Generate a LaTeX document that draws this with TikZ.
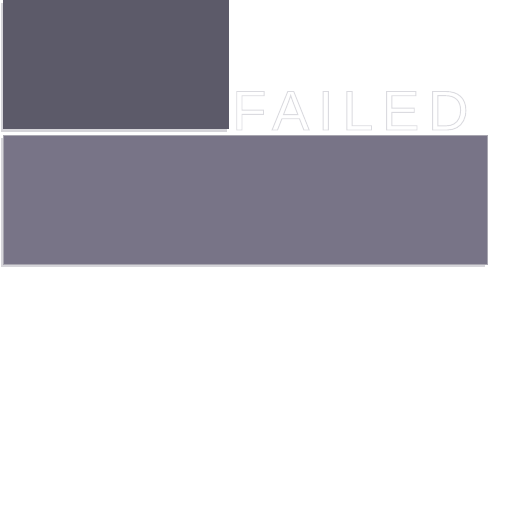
\documentclass[tikz,border=0pt]{standalone}
\usepackage{fontspec}
\setmainfont{Liberation Sans}
\usetikzlibrary{positioning,shadows}

\definecolor{slatedark}{HTML}{5C5A69}
\definecolor{slatelight}{HTML}{787487}
\definecolor{edgegray}{HTML}{A8A6B0}
\definecolor{shadegray}{HTML}{D6D5DA}

\begin{document}
\begin{tikzpicture}[x=1pt,y=-1pt,
   panel/.style={rectangle,inner sep=0pt,anchor=north west,
     drop shadow={shadow xshift=-2pt,shadow yshift=-2.5pt,fill=shadegray,opacity=1}},
   word/.style={inner sep=0pt,anchor=base west,text=white,
     font=\fontsize{56}{56}\selectfont\addfontfeatures{LetterSpace=15.5}}]
   \useasboundingbox[fill=white] (0,0) rectangle (512,512);
   \node[panel,fill=slatedark,minimum width=226pt,minimum height=129pt] (top) at (3,0) {};
   \node[panel,fill=slatelight,draw=edgegray,line width=0.8pt,minimum width=484pt,minimum height=129pt,
     below right=6pt and 0pt of top.south west] (bottom) {};
   % white letters, thin gray edge
   \node[word] (label) at (232,130)
     {\special{pdf:code 0.86 0.86 0.88 RG 2 Tr 0.9 w}FAILED\special{pdf:code 0 Tr}};
\end{tikzpicture}
\end{document}
